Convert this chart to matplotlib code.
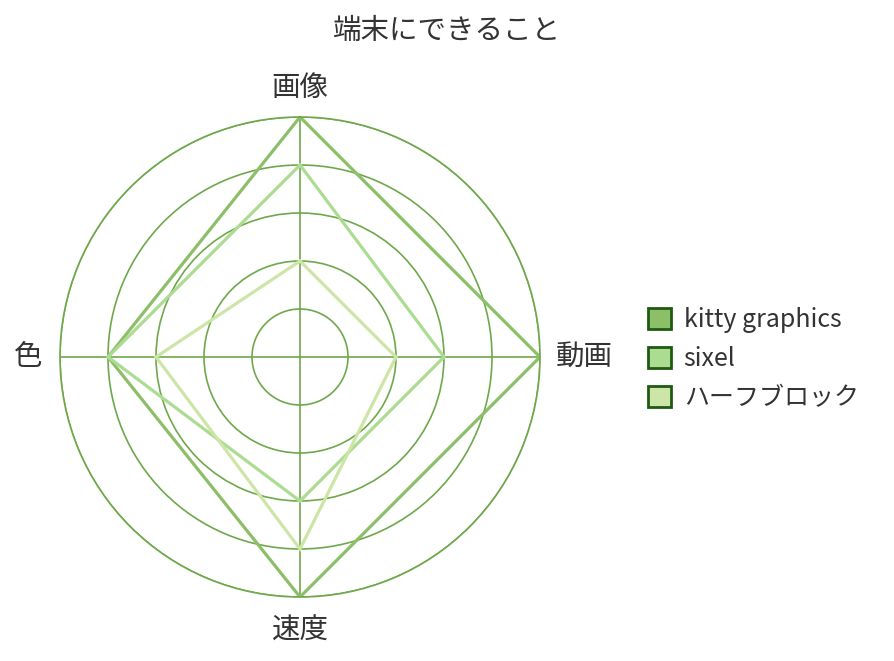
import matplotlib
matplotlib.use('Agg')
import matplotlib.pyplot as plt
from matplotlib.patches import Patch
import numpy as np

plt.rcParams['font.family'] = ['Noto Sans CJK JP', 'DejaVu Sans']

axes_labels = ['画像', '動画', '速度', '色']
series_names = ['kitty graphics', 'sixel', 'ハーフブロック']
kitty = [5, 5, 5, 4]
sixel = [4, 3, 3, 4]
half_block = [2, 2, 4, 3]
line_colors = ['#8dbf68', '#acdc92', '#cde5a6']
grid_color = '#6fa84c'
edge_color = '#1f5a12'

fig = plt.figure(figsize=(8.94, 6.61), dpi=100)
ax = fig.add_axes([60 / 894, 64 / 661, 480 / 894, 480 / 661], projection='polar')
ax.set_theta_offset(np.pi / 2)
ax.set_theta_direction(-1)

angles = np.linspace(0, 2 * np.pi, len(axes_labels), endpoint=False)
for vals, col in zip([kitty, sixel, half_block], line_colors):
    a = np.append(angles, angles[0])
    v = np.append(vals, vals[0])
    ax.plot(a, v, color=col, lw=2.3, solid_joinstyle='miter')

ax.set_ylim(0, 5)
ax.set_yticks([1, 2, 3, 4, 5])
ax.set_yticklabels([])
ax.set_xticks(angles)
ax.set_xticklabels([])
ax.grid(True, color=grid_color, lw=1.2)
ax.spines['polar'].set_color(grid_color)
ax.spines['polar'].set_linewidth(1.2)

# axis labels
fs = 20.5
ax.text(angles[0], 5.6, axes_labels[0], ha='center', va='center', fontsize=fs, color='#333333')
ax.text(angles[1], 5.33, axes_labels[1], ha='left', va='center', fontsize=fs, color='#333333')
ax.text(angles[2], 5.7, axes_labels[2], ha='center', va='center', fontsize=fs, color='#333333')
ax.text(angles[3], 5.37, axes_labels[3], ha='right', va='center', fontsize=fs, color='#333333')

fig.text(446 / 894, 1 - 31 / 661, '端末にできること', ha='center', va='center', fontsize=fs, color='#333333')

handles = [Patch(facecolor=c, edgecolor=edge_color, lw=2) for c in line_colors]
fig.legend(handles, series_names, loc='center left', bbox_to_anchor=(625 / 894, 1 - 359 / 661),
           frameon=False, fontsize=18, handlelength=0.95, handleheight=0.95,
           handletextpad=0.5, labelspacing=0.52, labelcolor='#333333')

fig.savefig('out.png', dpi=100)
